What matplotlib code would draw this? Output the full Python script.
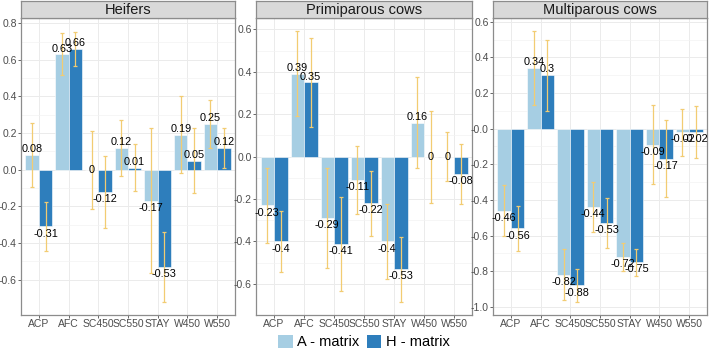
import matplotlib.pyplot as plt
import numpy as np
from matplotlib.patches import Patch

plt.rcParams['font.family'] = ['Liberation Sans', 'DejaVu Sans']

# Data
traits = ['ACP', 'AFC', 'SC450', 'SC550', 'STAY', 'W450', 'W550']
panels = ['Heifers', 'Primiparous cows', 'Multiparous cows']

heifers_a = [0.08, 0.63, 0, 0.12, -0.17, 0.19, 0.25]
heifers_h = [-0.31, 0.66, -0.12, 0.01, -0.53, 0.05, 0.12]
heifers_a_err = [0.175, 0.115, 0.212, 0.152, 0.396, 0.21, 0.133]
heifers_h_err = [0.134, 0.095, 0.196, 0.128, 0.19, 0.176, 0.11]

primi_a = [-0.23, 0.39, -0.29, -0.11, -0.4, 0.16, 0]
primi_h = [-0.4, 0.35, -0.41, -0.22, -0.53, 0, -0.08]
primi_a_err = [0.176, 0.2, 0.236, 0.16, 0.175, 0.214, 0.114]
primi_h_err = [0.142, 0.21, 0.222, 0.152, 0.153, 0.217, 0.141]

multi_a = [-0.46, 0.34, -0.82, -0.44, -0.72, -0.09, -0.02]
multi_h = [-0.56, 0.3, -0.88, -0.53, -0.75, -0.17, -0.02]
multi_a_err = [0.145, 0.205, 0.143, 0.14, 0.08, 0.222, 0.132]
multi_h_err = [0.124, 0.2, 0.09, 0.139, 0.077, 0.216, 0.145]

series = [
    (heifers_a, heifers_h, heifers_a_err, heifers_h_err),
    (primi_a, primi_h, primi_a_err, primi_h_err),
    (multi_a, multi_h, multi_a_err, multi_h_err),
]
yticks = [np.arange(-0.6, 0.81, 0.2), np.arange(-0.6, 0.61, 0.2), np.arange(-1.0, 0.61, 0.2)]

col_a = '#a6cee3'
col_h = '#2e7ebc'
col_err = '#f2cc72'
border = '#8c8c8c'

W, H = 709, 351
fig = plt.figure(figsize=(W / 100, H / 100), dpi=100)
lefts = [21, 256, 493]
widths = [214, 216, 214]
top_px, bot_px, strip_top = 18, 315, 1

x = np.arange(len(traits))
width = 0.45

for i in range(3):
    a, h, ea, eh = series[i]
    ax = fig.add_axes([lefts[i] / W, (H - bot_px) / H, widths[i] / W, (bot_px - top_px) / H])
    ax.set_axisbelow(True)
    for xs, vals, errs, c in [(x - width / 2, a, ea, col_a), (x + width / 2, h, eh, col_h)]:
        ax.bar(xs, vals, width, color=c, edgecolor='white', linewidth=0.4, zorder=2)
        ax.errorbar(xs, vals, yerr=errs, fmt='none', ecolor=col_err, elinewidth=0.9,
                    capsize=1.5, capthick=0.9, zorder=3)
        for xi, v in zip(xs, vals):
            lab = '%g' % v
            if v > 0:
                ax.annotate(lab, (xi, v), xytext=(0, 0.5), textcoords='offset points',
                            ha='center', va='bottom', fontsize=7.8, zorder=4)
            elif v < 0:
                ax.annotate(lab, (xi, v), xytext=(0, -1.5), textcoords='offset points',
                            ha='center', va='top', fontsize=7.8, zorder=4)
            else:
                ax.annotate(lab, (xi, v), xytext=(0, -0.5), textcoords='offset points',
                            ha='center', va='center', fontsize=7.8, zorder=4)

    lo = min(min(np.array(a) - np.array(ea)), min(np.array(h) - np.array(eh)))
    hi = max(max(np.array(a) + np.array(ea)), max(np.array(h) + np.array(eh)))
    pad = (hi - lo) * 0.05
    ax.set_ylim(lo - pad, hi + pad)
    ax.set_xlim(-0.6, len(traits) - 0.4)

    yt = yticks[i]
    ax.set_yticks(yt)
    ax.set_yticklabels(['%.1f' % t for t in yt])
    ax.set_yticks(yt[:-1] + 0.1, minor=True)
    ax.set_xticks(x)
    ax.set_xticklabels(traits)
    ax.tick_params(axis='both', which='major', labelsize=7.5, labelcolor='#4d4d4d',
                   color='#4d4d4d', length=2, width=0.6, pad=1)
    ax.tick_params(axis='y', which='minor', length=0)
    ax.grid(True, which='major', color='#ebebeb', linewidth=0.7)
    ax.grid(True, which='minor', axis='y', color='#f3f3f3', linewidth=0.5)
    for s in ax.spines.values():
        s.set_color(border)
        s.set_linewidth(0.9)

    # strip
    sax = fig.add_axes([lefts[i] / W, (H - top_px) / H, widths[i] / W, (top_px - strip_top) / H])
    sax.set_facecolor('#d9d9d9')
    sax.set_xticks([])
    sax.set_yticks([])
    for s in sax.spines.values():
        s.set_color(border)
        s.set_linewidth(0.9)
    sax.text(0.5, 0.45, panels[i], ha='center', va='center', fontsize=10.5, color='#1a1a1a',
             transform=sax.transAxes)

handles = [Patch(facecolor=col_a, edgecolor='none', label='A - matrix'),
           Patch(facecolor=col_h, edgecolor='none', label='H - matrix')]
fig.legend(handles=handles, loc='center', bbox_to_anchor=(364 / W, (H - 342) / H), ncol=2,
           frameon=False, fontsize=10.5, handlelength=1.0, handleheight=1.0,
           handletextpad=0.3, columnspacing=0.5)

fig.savefig('out.png', dpi=100)
